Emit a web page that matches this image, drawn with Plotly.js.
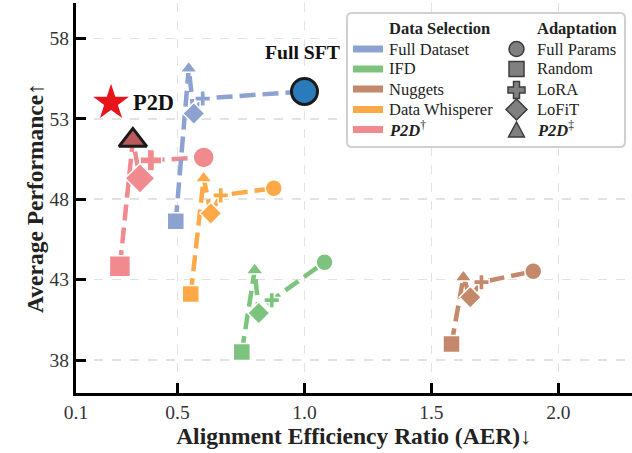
<!DOCTYPE html>
<html>
<head>
<meta charset="utf-8">
<script src="https://cdn.plot.ly/plotly-3.0.1.min.js"></script>
<style>html,body{margin:0;padding:0;background:#fff;}#chart{width:632px;height:453px;}</style>
</head>
<body>
<div id="chart"></div>
<script>
// Adaptation order along each line: Random, P2D‡, LoFiT, LoRA, Full Params
const adaptations = ["Random", "P2D‡", "LoFiT", "LoRA", "Full Params"];
const methods = ["Full Dataset", "IFD", "Nuggets", "Data Whisperer", "P2D†"];

const fullDatasetX = [0.493, 0.544, 0.564, 0.599, 1.000];
const fullDatasetY = [46.63, 56.13, 53.33, 54.26, 54.70];
const ifdX = [0.753, 0.804, 0.820, 0.871, 1.079];
const ifdY = [38.50, 43.59, 40.92, 41.72, 44.08];
const nuggetsX = [1.579, 1.626, 1.653, 1.697, 1.901];
const nuggetsY = [38.99, 43.15, 41.91, 42.84, 43.52];
const whispererX = [0.552, 0.603, 0.631, 0.670, 0.879];
const whispererY = [42.10, 49.30, 47.12, 48.24, 48.68];
const p2dX = [0.273, 0.324, 0.352, 0.395, 0.603];
const p2dY = [43.83, 51.66, 49.30, 50.42, 50.60];

const starX = [0.238];
const starY = [54.0];

const xTickVals = [0.1, 0.5, 1.0, 1.5, 2.0];
const xTickText = ["0.1", "0.5", "1.0", "1.5", "2.0"];
const yTickVals = [38, 43, 48, 53, 58];

// legend labels
const legendSelection = ["Full Dataset", "IFD", "Nuggets", "Data Whisperer", "<b><i>P2D</i></b><sup>†</sup>"];
const legendAdaptation = ["Full Params", "Random", "LoRA", "LoFiT", "<b><i>P2D</i></b><sup>‡</sup>"];

const colors = {
  "Full Dataset": "#8da2d0",
  "IFD": "#7cc47e",
  "Nuggets": "#c4896b",
  "Data Whisperer": "#fea947",
  "P2D†": "#f08a8f"
};
const symbols = ["square", "triangle-up", "diamond", "cross", "circle"];
const normalSizes = [17, 15, 17, 13, 17];
const bigSizes = [21, 24, 23, 18, 21];

const FONT = "Liberation Serif, Times New Roman, serif";
const dash = "16px,7px";

function methodTrace(name, xs, ys, opts) {
  const c = colors[name];
  const mcolors = xs.map(() => c);
  const lcolors = xs.map(() => "#ffffff");
  const lwidths = xs.map(() => 1.5);
  let sizes = (opts && opts.big) ? bigSizes.slice() : normalSizes.slice();
  if (opts && opts.special) {
    const s = opts.special;
    mcolors[s.idx] = s.color;
    lcolors[s.idx] = "#1a1a1a";
    lwidths[s.idx] = 3;
    sizes[s.idx] = s.size;
  }
  return {
    type: "scatter", mode: "lines+markers", x: xs, y: ys, name: name,
    showlegend: false, hoverinfo: "skip",
    line: {color: c, width: 4.5, dash: dash},
    marker: {symbol: symbols, size: sizes, color: mcolors,
             line: {color: lcolors, width: lwidths}, opacity: 1}
  };
}

const traces = [
  methodTrace("P2D†", p2dX, p2dY, {big: true, special: {idx: 1, color: "#b85a5c", size: 24}}),
  methodTrace("Data Whisperer", whispererX, whispererY),
  methodTrace("Nuggets", nuggetsX, nuggetsY),
  methodTrace("IFD", ifdX, ifdY),
  methodTrace("Full Dataset", fullDatasetX, fullDatasetY, {special: {idx: 4, color: "#2b7bba", size: 26}}),
  {type: "scatter", mode: "markers", x: starX, y: starY, showlegend: false, hoverinfo: "skip",
   marker: {symbol: "star", size: 27, color: "#e8141c", line: {width: 0}}}
];

// ---- manual legend (pixel layout converted to paper coords) ----
const ML = 76, MT = 3, PW = 556, PH = 390;
const px = x => (x - ML) / PW;
const py = y => (MT + PH - y) / PH;
const rows = [49, 69, 89, 109.5, 129.5];
const shapes = [];
const annotations = [];

// box
(function () {
  const x0 = 347, x1 = 625, y0 = 13, y1 = 147, r = 5;
  const p = (x, y) => `${px(x)},${py(y)}`;
  const path = `M${p(x0 + r, y0)} L${p(x1 - r, y0)} Q${p(x1, y0)} ${p(x1, y0 + r)} L${p(x1, y1 - r)} Q${p(x1, y1)} ${p(x1 - r, y1)} L${p(x0 + r, y1)} Q${p(x0, y1)} ${p(x0, y1 - r)} L${p(x0, y0 + r)} Q${p(x0, y0)} ${p(x0 + r, y0)} Z`;
  shapes.push({type: "path", xref: "paper", yref: "paper", path: path,
    line: {color: "#d0d0d0", width: 2}, fillcolor: "#ffffff", layer: "above"});
})();

methods.forEach((m, i) => {
  shapes.push({type: "line", xref: "paper", yref: "paper", x0: px(353), x1: px(383), y0: py(rows[i]), y1: py(rows[i]),
    line: {color: colors[m], width: 7}, layer: "above"});
  annotations.push({xref: "paper", yref: "paper", x: px(387), y: py(rows[i]), xanchor: "left", yanchor: "middle",
    text: legendSelection[i], showarrow: false, font: {family: FONT, size: 16.5, color: "#222"}});
  annotations.push({xref: "paper", yref: "paper", x: px(535), y: py(rows[i]), xanchor: "left", yanchor: "middle",
    text: legendAdaptation[i], showarrow: false, font: {family: FONT, size: 16.5, color: "#222"}});
});
// adaptation glyphs
(function () {
  const cx = 516.5, fill = "#808080", edge = {color: "#3c3c3c", width: 1.5};
  const p = (x, y) => `${px(x)},${py(y)}`;
  let y = rows[0];
  shapes.push({type: "circle", xref: "paper", yref: "paper", x0: px(cx - 7.5), x1: px(cx + 7.5), y0: py(y + 7.5), y1: py(y - 7.5),
    fillcolor: fill, line: edge, layer: "above"});
  y = rows[1];
  shapes.push({type: "rect", xref: "paper", yref: "paper", x0: px(cx - 7.5), x1: px(cx + 7.5), y0: py(y + 7.5), y1: py(y - 7.5),
    fillcolor: fill, line: edge, layer: "above"});
  y = rows[2] + 1;
  const a = 8.5, b = 3;
  shapes.push({type: "path", xref: "paper", yref: "paper", fillcolor: fill, line: edge, layer: "above",
    path: `M${p(cx - b, y - a)} L${p(cx + b, y - a)} L${p(cx + b, y - b)} L${p(cx + a, y - b)} L${p(cx + a, y + b)} L${p(cx + b, y + b)} L${p(cx + b, y + a)} L${p(cx - b, y + a)} L${p(cx - b, y + b)} L${p(cx - a, y + b)} L${p(cx - a, y - b)} L${p(cx - b, y - b)} Z`});
  y = rows[3];
  shapes.push({type: "path", xref: "paper", yref: "paper", fillcolor: fill, line: edge, layer: "above",
    path: `M${p(cx, y - 10.5)} L${p(cx + 10.5, y)} L${p(cx, y + 10.5)} L${p(cx - 10.5, y)} Z`});
  y = rows[4];
  shapes.push({type: "path", xref: "paper", yref: "paper", fillcolor: fill, line: edge, layer: "above",
    path: `M${p(cx, y - 7.5)} L${p(cx + 8, y + 7.5)} L${p(cx - 8, y + 7.5)} Z`});
})();

annotations.push({xref: "paper", yref: "paper", x: px(387), y: py(28.5), xanchor: "left", yanchor: "middle",
  text: "<b>Data Selection</b>", showarrow: false, font: {family: FONT, size: 16.5, color: "#222"}});
annotations.push({xref: "paper", yref: "paper", x: px(535), y: py(28.5), xanchor: "left", yanchor: "middle",
  text: "<b>Adaptation</b>", showarrow: false, font: {family: FONT, size: 16.5, color: "#222"}});
annotations.push({x: 0.994, y: 57.18, text: "<b>Full SFT</b>", showarrow: false,
  font: {family: FONT, size: 19.7, color: "#111"}});
annotations.push({x: 0.405, y: 54.03, text: "<b>P2D</b>", showarrow: false,
  font: {family: FONT, size: 22.4, color: "#111"}});

const layout = {
  width: 632, height: 453,
  margin: {l: ML, r: 0, t: MT, b: 60},
  paper_bgcolor: "#ffffff", plot_bgcolor: "#ffffff",
  font: {family: FONT, size: 17, color: "#222"},
  showlegend: false,
  xaxis: {
    range: [0.1, 2.29], tickvals: xTickVals, ticktext: xTickText,
    showline: true, linecolor: "#000", linewidth: 3, mirror: false,
    ticks: "inside", ticklen: 10, tickwidth: 3, tickcolor: "#000",
    showgrid: true, gridcolor: "#e2e2e2", gridwidth: 1.5, griddash: "dash",
    zeroline: false, tickfont: {family: FONT, size: 19.5, color: "#333"},
    title: {text: "<b>Alignment Efficiency Ratio (AER)</b>↓", font: {family: FONT, size: 23.5, color: "#222"}, standoff: 3}
  },
  yaxis: {
    range: [35.95, 60.2], tickvals: yTickVals,
    showline: true, linecolor: "#000", linewidth: 3, mirror: false,
    ticks: "inside", ticklen: 10, tickwidth: 3, tickcolor: "#000",
    showgrid: true, gridcolor: "#e2e2e2", gridwidth: 1.5, griddash: "dash",
    zeroline: false, tickfont: {family: FONT, size: 19.5, color: "#333"},
    title: {text: "<b>Average Performance</b>↑", font: {family: FONT, size: 23.5, color: "#222"}, standoff: 0}
  },
  shapes: shapes,
  annotations: annotations
};

Plotly.newPlot("chart", traces, layout, {displayModeBar: false, staticPlot: true});
</script>
</body>
</html>
